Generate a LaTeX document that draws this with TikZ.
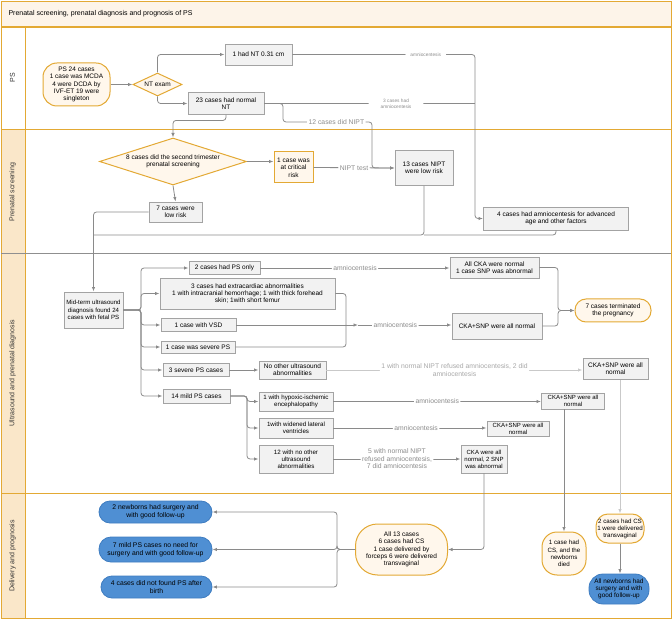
\documentclass[tikz,border=0pt]{standalone}
\usepackage{fontspec}
\setmainfont{Liberation Sans}
\usetikzlibrary{arrows.meta,shapes.geometric}
\definecolor{gold}{HTML}{E3A934}
\definecolor{cream}{HTML}{FFF7EC}
\definecolor{titlefill}{HTML}{FDF4E9}
\definecolor{headfill}{HTML}{FAE7C9}
\definecolor{boxfill}{HTML}{F2F2F2}
\definecolor{boxline}{HTML}{A3A3A3}
\definecolor{linegray}{HTML}{8A8A8A}
\definecolor{lightline}{HTML}{C9C9C9}
\definecolor{lblgray}{HTML}{8C8C8C}
\definecolor{lbllight}{HTML}{A8A8A8}
\definecolor{lanegray}{HTML}{8F8F8F}
\definecolor{bluefill}{HTML}{4F8FD3}
\definecolor{blueline}{HTML}{3E7CC0}
\newcommand\fsz[2]{\fontsize{#1}{#2}\selectfont}
\begin{document}
\begin{tikzpicture}[x=1pt,y=-1pt,
  base/.style={align=center,inner sep=0.5pt,font=\fsz{6.5}{7.3},text=black},
  gbox/.style={base,draw=boxline,fill=boxfill,line width=0.9pt},
  goldbox/.style={base,draw=gold,fill=cream,line width=1pt},
  bluebox/.style={base,draw=blueline,fill=bluefill,line width=0.8pt,font=\fsz{6.8}{7.6}},
  gdiam/.style={base,diamond,draw=gold,fill=cream,line width=1pt,inner sep=0pt},
  conn/.style={draw=linegray,line width=0.8pt,rounded corners=3pt},
  flow/.style={conn,-{Latex[length=4.5pt,width=3.4pt]}},
  flowlight/.style={draw=lightline,line width=0.8pt,rounded corners=3pt,-{Latex[length=4.5pt,width=3.4pt]}},
  lbl/.style={fill=white,text=lblgray,font=\fsz{6.8}{7.5},inner sep=1.5pt,align=center},
  slbl/.style={fill=white,text=lblgray,font=\fsz{4.8}{5.6},inner xsep=5pt,inner ysep=1pt,align=center},
  lbllt/.style={fill=white,text=lbllight,font=\fsz{6.8}{7.5},inner sep=1.5pt,align=center},
  lanelbl/.style={rotate=90,font=\fsz{7}{8},text=black!80}
]
\useasboundingbox (0,0) rectangle (672,620);
% ---- frame ----
\fill[titlefill] (1,1) rectangle (671,26.5);
\draw[gold,line width=0.8pt] (1,1) rectangle (671,26.5);
\node[anchor=west,font=\fsz{7}{8}] (title) at (5,14) {Prenatal screening, prenatal diagnosis and prognosis of PS};
\fill[headfill] (1,130) rectangle (25,618);
\draw[gold,line width=1pt] (25,27) -- (25,618);
\draw[gold,line width=1pt] (1,27) rectangle (671,618);
\draw[gold,line width=1.6pt] (1,27) -- (671,27);
\draw[gold,line width=1pt] (1,130) -- (671,130);
\draw[lanegray,line width=0.8pt] (1,253) -- (671,253);
\draw[gold,line width=1pt] (1,493) -- (671,493);
\node[lanelbl] (lane1) at (12.5,78) {PS};
\node[lanelbl] (lane2) at (12.5,192) {Prenatal screening};
\node[lanelbl] (lane3) at (12.5,373) {Ultrasound and prenatal diagnosis};
\node[lanelbl] (lane4) at (12.5,556) {Delivery and prognosis};
% ---- PS lane ----
\node[goldbox,rounded corners=14pt,minimum width=67pt,minimum height=43pt] (start) at (76.5,84.5) {PS 24 cases\\1 case was MCDA\\4 were DCDA by\\IVF-ET 19 were\\singleton};
\node[gdiam,minimum width=49pt,minimum height=23pt,aspect=2.1] (nt) at (157.5,84.5) {NT exam};
\node[gbox,minimum width=67pt,minimum height=21pt] (nt1) at (258.5,54.5) {1 had NT 0.31 cm};
\node[gbox,minimum width=76pt,minimum height=22pt] (n23) at (226,103.5) {23 cases had normal\\NT};
\node[gbox,minimum width=145pt,minimum height=23pt] (am4) at (556,218.5) {4 cases had amniocentesis for advanced\\age and other factors};
% ---- Prenatal screening ----
\node[gdiam,minimum width=147pt,minimum height=47pt,aspect=3.1] (ps8) at (173,161.5) {8 cases did the second trimester\\prenatal screening};
\node[goldbox,minimum width=39pt,minimum height=31pt] (crit) at (293.5,167.5) {1 case was\\at critical\\risk};
\node[gbox,minimum width=58pt,minimum height=35pt] (nipt13) at (424,168) {13 cases NIPT\\were low risk};
\node[gbox,minimum width=53pt,minimum height=20pt] (low7) at (175.5,212) {7 cases were\\low risk};
% ---- Ultrasound ----
\node[gbox,minimum width=59pt,minimum height=36pt,font=\fsz{6.1}{7.2}] (mid) at (93.5,310) {Mid-term ultrasound\\diagnosis found 24\\cases with fetal PS};
\node[gbox,minimum width=71pt,minimum height=13pt] (ps2) at (224.5,268) {2 cases had PS only};
\node[gbox,minimum width=175pt,minimum height=31pt] (extra) at (247.5,293.5) {3 cases had extracardiac abnormalities\\1 with intracranial hemorrhage; 1 with thick forehead\\skin; 1with short femur};
\node[gbox,minimum width=75pt,minimum height=13pt] (vsd) at (198.5,325) {1 case with VSD};
\node[gbox,minimum width=74pt,minimum height=12pt] (sev1) at (198,347) {1 case was severe PS};
\node[gbox,minimum width=66pt,minimum height=13pt] (sev3) at (196,370) {3 severe PS cases};
\node[gbox,minimum width=67pt,minimum height=18pt] (noother) at (292.5,370) {No other ultrasound\\abnormalities};
\node[gbox,minimum width=67pt,minimum height=14pt] (mild14) at (196.5,396) {14 mild PS cases};
\node[gbox,minimum width=74pt,minimum height=19pt,font=\fsz{6.2}{7.2}] (hyp) at (296,401.5) {1 with hypoxic-ischemic\\encephalopathy};
\node[gbox,minimum width=74pt,minimum height=20pt,font=\fsz{6.2}{7.2}] (wid) at (296,428) {1with widened lateral\\ventricles};
\node[gbox,minimum width=74pt,minimum height=28pt,font=\fsz{6.2}{7.2}] (no12) at (296,459) {12 with no other\\ultrasound\\abnormalities};
\node[gbox,minimum width=89pt,minimum height=21pt] (cka1) at (494.5,267.5) {All CKA were normal\\1 case SNP was abnormal};
\node[gbox,minimum width=90pt,minimum height=26pt] (cka2) at (497,326) {CKA+SNP were all normal};
\node[goldbox,rounded corners=11pt,minimum width=76pt,minimum height=23pt] (term) at (613,310.5) {7 cases terminated\\the pregnancy};
\node[gbox,minimum width=65pt,minimum height=21pt] (cka3) at (615.5,369) {CKA+SNP were all\\normal};
\node[gbox,minimum width=63pt,minimum height=16pt,font=\fsz{6}{6.8}] (ckah) at (573,401) {CKA+SNP were all\\normal};
\node[gbox,minimum width=62pt,minimum height=15pt,font=\fsz{6}{6.8}] (ckaw) at (518,428.5) {CKA+SNP were all\\normal};
\node[gbox,minimum width=46pt,minimum height=28pt,font=\fsz{6}{6.9}] (ckan) at (484,459) {CKA were all\\normal, 2 SNP\\was abnormal};
% ---- Delivery ----
\node[goldbox,rounded corners=22pt,minimum width=92pt,minimum height=51pt] (all13) at (401.5,549.5) {All 13 cases\\6 cases had CS\\1 case delivered by\\forceps 6 were delivered\\transvaginal};
\node[goldbox,rounded corners=15pt,minimum width=44pt,minimum height=43pt,font=\fsz{6.2}{7.2}] (died) at (564,553.5) {1 case had\\CS, and the\\newborns\\died};
\node[goldbox,rounded corners=12pt,minimum width=48pt,minimum height=29pt,font=\fsz{6.2}{7}] (cs2) at (620,528.5) {2 cases had CS\\1 were delivered\\transvaginal};
\node[bluebox,rounded corners=14pt,minimum width=60pt,minimum height=30pt,font=\fsz{6.4}{7.3}] (allnew) at (619,589) {All newborns had\\surgery and with\\good follow-up};
\node[bluebox,rounded corners=11pt,minimum width=113pt,minimum height=22pt] (b1) at (155.5,512) {2 newborns had surgery and\\with good follow-up};
\node[bluebox,rounded corners=12pt,minimum width=113pt,minimum height=25pt] (b2) at (155.5,549.5) {7 mild PS cases no need for\\surgery and with good follow-up};
\node[bluebox,rounded corners=11pt,minimum width=111pt,minimum height=22pt] (b3) at (156.5,587) {4 cases did not found PS after\\birth};
% ---- connectors: PS lane ----
\draw[flow] (start) -- (nt);
\draw[flow] (nt.north) |- (nt1.west);
\draw[flow] (nt.south) |- (n23.west);
\draw[flow] (nt1.east) -- node[slbl,pos=0.73]{amniocentesis} (475,54.5) |- (am4.west);
\draw[conn] (n23.east) -- node[slbl,pos=0.625,inner xsep=12pt]{3 cases had\\amniocentesis} (475,103.5);
\draw[flow] (n23.east) -| (283,122) -- node[lbl,pos=0.6]{12 cases did NIPT} (372,122) |- (nipt13.west);
\draw[flow] (n23.south) -- ++(0,5.5) -| (ps8.north);
% ---- connectors: prenatal screening ----
\draw[flow] (ps8.east) -- (crit.west |- ps8.east);
\draw[flow] (crit.east) -- node[lbl]{NIPT test} (nipt13.west);
\draw[flow] (ps8.south) -- (low7.north);
\draw[flow] (low7.west) -| (mid.north);
\draw[conn] (nipt13.south) |- (93.5,235);
\draw[conn] (am4.south) |- (424,235);
% ---- connectors: ultrasound ----
\foreach \t in {ps2,extra,vsd,sev1,sev3,mild14}
  \draw[flow] (mid.east) -- (141,310) |- (\t.west);
\draw[flow] (ps2.east) -- node[lbl]{amniocentesis} (cka1.west |- ps2.east);
\draw[conn] (extra.east) -| (346,325);
\draw[conn] (sev1.east) -| (346,325);
\draw[flow] (vsd.east) -- (358,325);
\draw[flow] (358,325) -- node[lbl,pos=0.4]{amniocentesis} (cka2.west |- vsd.east);
\draw[flow] (cka1.east) -- (558,267.5) |- (term.west);
\draw[flow] (cka2.east) -- (558,326) |- (term.west);
\draw[flow] (sev3.east) -- (noother.west);
\draw[flowlight] (noother.east) -- node[lbllt]{1 with normal NIPT refused amniocentesis, 2 did\\amniocentesis} (cka3.west |- noother.east);
\foreach \t in {hyp,wid,no12}
  \draw[flow] (mild14.east) -- (247,396) |- (\t.west);
\draw[flow] (hyp.east) -- node[lbl]{amniocentesis} (ckah.west |- hyp.east);
\draw[flow] (wid.east) -- node[lbl,pos=0.54]{amniocentesis} (ckaw.west |- wid.east);
\draw[flow] (no12.east) -- node[lbl]{5 with normal NIPT\\refused amniocentesis,\\7 did amniocentesis} (ckan.west |- no12.east);
% ---- connectors: delivery ----
\draw[flow] (ckan.south) |- (all13.east);
\draw[flow] (ckah.south -| died.north) -- (died.north);
\draw[flowlight] (cka3.south -| cs2.north) -- (cs2.north);
\draw[flow] (cs2.south) -- (cs2.south |- allnew.north);
\foreach \t in {b1,b2,b3}
  \draw[flow] (all13.west) -- (337,549.5) |- (\t.east);
\end{tikzpicture}
\end{document}
